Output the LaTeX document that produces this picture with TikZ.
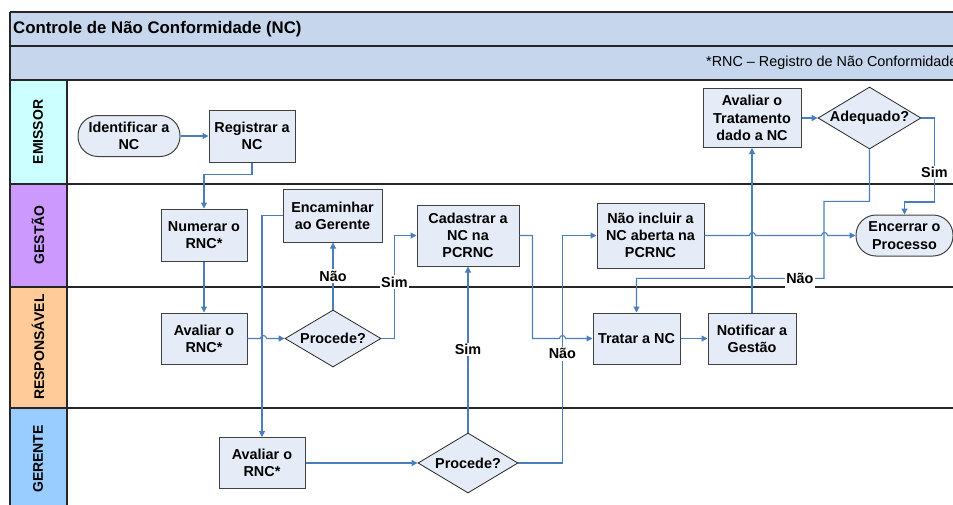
\documentclass[tikz,border=0pt]{standalone}
\usepackage{fontspec}
\setmainfont{Liberation Sans}
\usetikzlibrary{shapes.geometric,arrows.meta,calc}
\definecolor{hdr}{RGB}{198,214,236}
\definecolor{boxfill}{RGB}{230,236,247}
\definecolor{boxborder}{RGB}{64,64,64}
\definecolor{conncol}{RGB}{74,126,187}
\definecolor{emc}{RGB}{204,255,255}
\definecolor{gesc}{RGB}{204,153,255}
\definecolor{resc}{RGB}{255,204,153}
\definecolor{gerc}{RGB}{153,204,255}
\begin{document}
\begin{tikzpicture}[x=1pt,y=-1pt,
  every node/.style={font=\fontsize{14.4}{17.3}\selectfont\bfseries},
  box/.style={draw=boxborder, fill=boxfill, line width=1pt, align=center, inner sep=1pt},
  term/.style={box, rounded corners=20pt},
  dia/.style={diamond, draw=black!85, fill=boxfill, line width=0.8pt, inner sep=0pt},
  conn/.style={draw=conncol, line width=1.1pt, -{Triangle[length=6pt,width=6pt]}},
  lbl/.style={fill=white, inner sep=1.5pt, text=black},
  lanetxt/.style={rotate=90, font=\fontsize{14}{16}\selectfont\bfseries},
  frame/.style={draw=black!85, line width=1.4pt}
]
\useasboundingbox (0,0) rectangle (953,504);
\clip (0,0) rectangle (953,504);
% bands
\fill[hdr] (10,12) rectangle (960,80);
\fill[emc] (10,80) rectangle (67,184);
\fill[gesc] (10,184) rectangle (67,287);
\fill[resc] (10,287) rectangle (67,408);
\fill[gerc] (10,408) rectangle (67,510);
\draw[frame] (10,12) -- (960,12) (10,46) -- (960,46) (10,80) -- (960,80)
  (10,184) -- (960,184) (10,287) -- (960,287) (10,408) -- (960,408)
  (10,12) -- (10,510) (67,80) -- (67,510);
\node[anchor=west, inner sep=0pt, font=\fontsize{16.8}{20}\selectfont\bfseries] (title) at (13,29) {Controle de Não Conformidade (NC)};
\node[anchor=west, inner sep=0pt, font=\fontsize{14.4}{17}\selectfont] (sub) at (706,63) {*RNC -- Registro de Não Conformidade};
\node[lanetxt] (l1) at (38,132) {EMISSOR};
\node[lanetxt] (l2) at (38,235) {GESTÃO};
\node[lanetxt] (l3) at (38,347) {RESPONSÁVEL};
\node[lanetxt] (l4) at (38,459) {GERENTE};
% nodes
\node[term, minimum width=102pt, minimum height=41pt] (idnc) at (129,136) {Identificar a\\NC};
\node[box, minimum width=86pt, minimum height=52pt] (reg) at (252,136) {Registrar a\\NC};
\node[box, minimum width=86pt, minimum height=52pt] (num) at (204,235) {Numerar o\\RNC*};
\node[box, minimum width=86pt, minimum height=51pt] (avr) at (204,338.5) {Avaliar o\\RNC*};
\node[dia, minimum width=96pt, minimum height=57pt, label={[font=\fontsize{14.4}{17.3}\selectfont\bfseries]center:Procede?}] (pr) at (333,338.5) {};
\node[box, minimum width=99pt, minimum height=53pt] (enc) at (332.5,215.5) {Encaminhar\\ao Gerente};
\node[box, minimum width=86pt, minimum height=51pt] (avg) at (262,463) {Avaliar o\\RNC*};
\node[dia, minimum width=100pt, minimum height=60pt, label={[font=\fontsize{14.4}{17.3}\selectfont\bfseries]center:Procede?}] (pg) at (468,463) {};
\node[box, minimum width=102pt, minimum height=61pt] (cad) at (468,235.5) {Cadastrar a\\NC na\\PCRNC};
\node[box, minimum width=107pt, minimum height=65pt] (nao) at (650.5,235.5) {Não incluir a\\NC aberta na\\PCRNC};
\node[box, minimum width=87pt, minimum height=51pt] (trat) at (636.5,338.5) {Tratar a NC};
\node[box, minimum width=88pt, minimum height=51pt] (notif) at (752,338.5) {Notificar a\\Gestão};
\node[box, minimum width=98pt, minimum height=59pt] (avt) at (752,118) {Avaliar o\\Tratamento\\dado a NC};
\node[dia, minimum width=103pt, minimum height=62pt, label={[font=\fontsize{14.4}{17.3}\selectfont\bfseries]center:Adequado?}] (adq) at (869.5,118) {};
\node[term, minimum width=97pt, minimum height=41pt] (fim) at (904.5,235.5) {Encerrar o\\Processo};
% connectors
\draw[conn] (idnc.east) -- (reg.west);
\draw[conn] (reg.south) -- ++(0,12) -| (num.north);
\draw[conn] (num.south) -- (avr.north);
\draw[conn] (avr.east) -- ++(13,0) arc[start angle=180, end angle=360, radius=3] -- (pr.west);
\draw[conn] (pr.north) -- node[lbl] {Não} (pr.north |- enc.south);
\draw[conn] (pr.east) -- ++(13,0) coordinate (s1) -- node[lbl, pos=0.55] {Sim} (s1 |- cad.west) -- (cad.west);
\draw[conn] (enc.west) -| (avg.north);
\draw[conn] (avg.east) -- (pg.west);
\draw[conn] (pg.north) -- node[lbl] {Sim} (cad.south);
\draw[conn] (pg.east) -- ++(44,0) coordinate (n1) -- node[lbl, pos=0.48] {Não} (n1 |- nao.west) -- (nao.west);
\draw[conn] (cad.east) -- ++(13,0) coordinate (c1) -- (c1 |- trat.west) -- ++(27,0) arc[start angle=180, end angle=360, radius=3] -- (trat.west);
\draw[conn] (nao.east) -- ++(45,0) arc[start angle=180, end angle=360, radius=3] -- ++(66,0) arc[start angle=180, end angle=360, radius=3] -- (fim.west);
\draw[conn] (trat.east) -- (notif.west);
\draw[conn] (notif.north) -- (avt.south);
\draw[conn] (avt.east) -- (adq.west);
\draw[conn] (adq.east) -- ++(13,0) coordinate (a1) -- node[lbl, pos=0.65] {Sim} ++(0,84) coordinate (a2) -| (fim.north);
\draw[conn] (adq.south) -- ++(0,52) -- ++(-45.5,0) -- ++(0,77) coordinate (r1) -- node[lbl, pos=0.35, minimum height=19pt] {Não} ++(-69,0) arc[start angle=0, end angle=-180, radius=3] -| (trat.north);
\end{tikzpicture}
\end{document}
